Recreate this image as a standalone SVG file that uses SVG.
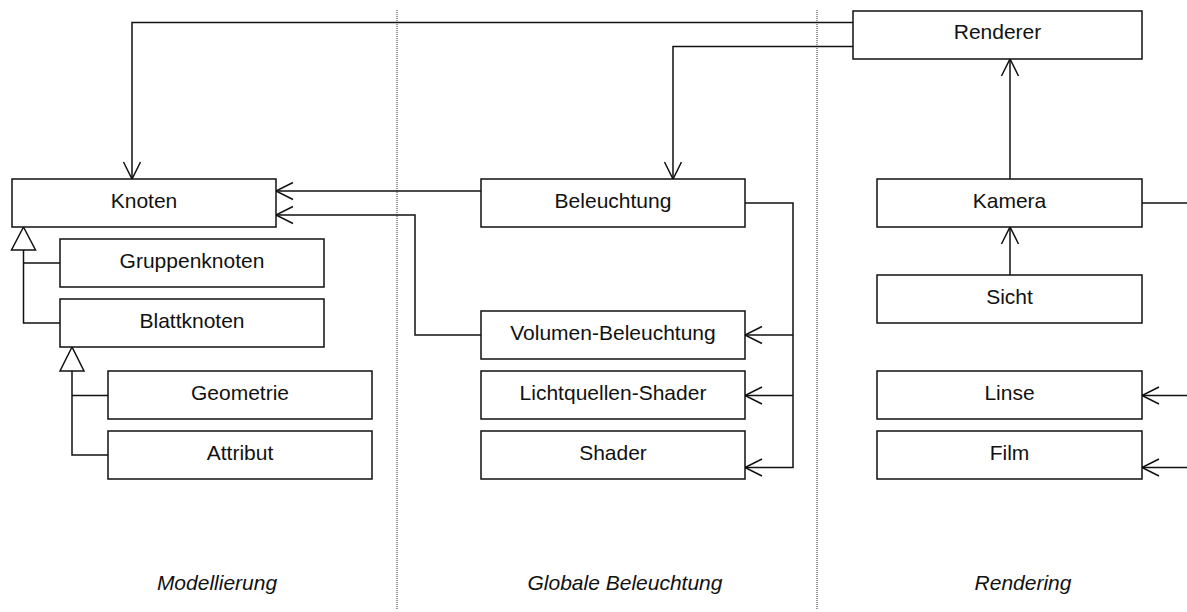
<svg xmlns="http://www.w3.org/2000/svg" width="1187" height="612" viewBox="0 0 1187 612">
<style>
.box{fill:#fff;stroke:#111;stroke-width:1.5}
.lbl{font-family:"Liberation Sans",Arial,sans-serif;font-size:21px;fill:#111;text-anchor:middle}
.cap{font-family:"Liberation Sans",Arial,sans-serif;font-size:21px;font-style:italic;fill:#111;text-anchor:middle}
.ln{fill:none;stroke:#111;stroke-width:1.5}
.sep{fill:none;stroke:#333;stroke-width:1;stroke-dasharray:1 1}
.tri{fill:#fff;stroke:#111;stroke-width:1.5}
</style>
<defs>
<marker id="open" viewBox="-19 -10 21 20" markerWidth="21" markerHeight="20" refX="0" refY="0" orient="auto" markerUnits="userSpaceOnUse">
<path d="M-17,-8.5 L0,0 L-17,8.5" fill="none" stroke="#111" stroke-width="1.5"/>
</marker>
</defs>
<rect width="1187" height="612" fill="#fff"/>
<g id="separators">
<line class="sep" x1="397" y1="10" x2="397" y2="610"/>
<line class="sep" x1="817" y1="10" x2="817" y2="610"/>
</g>
<g id="connectors">
<path class="ln" d="M853,22.5 H132 V179" marker-end="url(#open)"/>
<path class="ln" d="M853,46.5 H673 V179" marker-end="url(#open)"/>
<path class="ln" d="M481,191 H276" marker-end="url(#open)"/>
<path class="ln" d="M481,335 H415 V215 H276" marker-end="url(#open)"/>
<path class="ln" d="M745,203 H793 V467.5 H745" marker-end="url(#open)"/>
<path class="ln" d="M793,335 H745" marker-end="url(#open)"/>
<path class="ln" d="M793,395.5 H745" marker-end="url(#open)"/>
<path class="ln" d="M1010,227 V59" marker-end="url(#open)"/>
<path class="ln" d="M1010,275 V227" marker-end="url(#open)"/>
<path class="ln" d="M1142,203 H1192 V467.5 H1142" marker-end="url(#open)"/>
<path class="ln" d="M1192,395.5 H1142" marker-end="url(#open)"/>
<path class="ln" d="M23.5,250 V323 H60 M23.5,263 H60"/>
<polygon class="tri" points="23.5,227 11.5,250 35.5,250"/>
<path class="ln" d="M72,371 V455 H108 M72,395.5 H108"/>
<polygon class="tri" points="72,347 60,371 84,371"/>
</g>
<g id="knoten"><rect class="box" x="12" y="179" width="264" height="48"/><text class="lbl" x="144" y="207.5">Knoten</text></g>
<g id="gruppenknoten"><rect class="box" x="60" y="239" width="264" height="48"/><text class="lbl" x="192" y="267.5">Gruppenknoten</text></g>
<g id="blattknoten"><rect class="box" x="60" y="299" width="264" height="48"/><text class="lbl" x="192" y="327.5">Blattknoten</text></g>
<g id="geometrie"><rect class="box" x="108" y="371" width="264" height="48"/><text class="lbl" x="240" y="399.5">Geometrie</text></g>
<g id="attribut"><rect class="box" x="108" y="431" width="264" height="48"/><text class="lbl" x="240" y="459.5">Attribut</text></g>
<g id="beleuchtung"><rect class="box" x="481" y="179" width="264" height="48"/><text class="lbl" x="613" y="207.5">Beleuchtung</text></g>
<g id="volumen-beleuchtung"><rect class="box" x="481" y="311" width="264" height="48"/><text class="lbl" x="613" y="339.5">Volumen-Beleuchtung</text></g>
<g id="lichtquellen-shader"><rect class="box" x="481" y="371" width="264" height="48"/><text class="lbl" x="613" y="399.5">Lichtquellen-Shader</text></g>
<g id="shader"><rect class="box" x="481" y="431" width="264" height="48"/><text class="lbl" x="613" y="459.5">Shader</text></g>
<g id="renderer"><rect class="box" x="853" y="11" width="289" height="48"/><text class="lbl" x="997.5" y="39">Renderer</text></g>
<g id="kamera"><rect class="box" x="877" y="179" width="265" height="48"/><text class="lbl" x="1009.5" y="207.5">Kamera</text></g>
<g id="sicht"><rect class="box" x="877" y="275" width="265" height="48"/><text class="lbl" x="1009.5" y="303.5">Sicht</text></g>
<g id="linse"><rect class="box" x="877" y="371" width="265" height="48"/><text class="lbl" x="1009.5" y="399.5">Linse</text></g>
<g id="film"><rect class="box" x="877" y="431" width="265" height="48"/><text class="lbl" x="1009.5" y="459.5">Film</text></g>
<g id="captions">
<text class="cap" x="217" y="590">Modellierung</text>
<text class="cap" x="625" y="590">Globale Beleuchtung</text>
<text class="cap" x="1023" y="590">Rendering</text>
</g>
</svg>
